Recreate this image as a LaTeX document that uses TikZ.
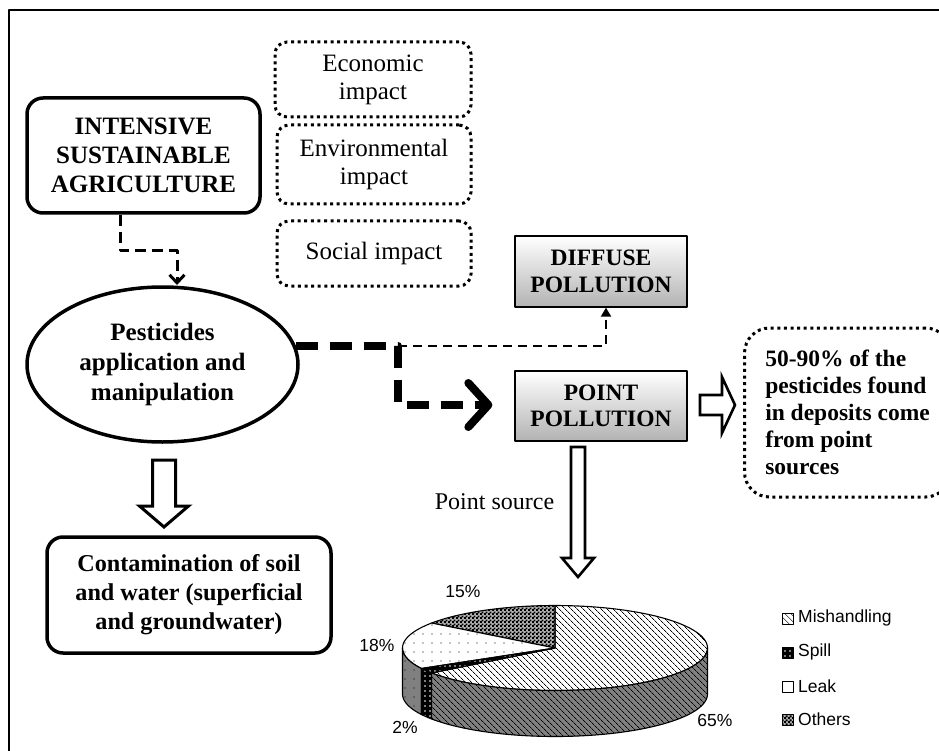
\documentclass[tikz,border=0pt]{standalone}
\usepackage{fontspec}
\setmainfont{Liberation Serif}
\newfontfamily\arialf{Liberation Sans}
\usetikzlibrary{shapes.geometric,arrows.meta,patterns,patterns.meta,calc}
\pgfdeclarepatternformonly{mychecker}{\pgfpointorigin}{\pgfpoint{4pt}{4pt}}{\pgfpoint{4pt}{4pt}}{%
  \pgfpathrectangle{\pgfpointorigin}{\pgfpoint{2.2pt}{2.2pt}}%
  \pgfpathrectangle{\pgfpoint{2pt}{2pt}}{\pgfpoint{2.2pt}{2.2pt}}%
  \pgfusepath{fill}}
\begin{document}
\begin{tikzpicture}[x=1pt,y=-1pt,line join=round,
  solidbox/.style={draw,line width=3.5pt,rounded corners=16pt,align=center,inner sep=0pt},
  dotbox/.style={draw,line width=3pt,dash pattern=on 3pt off 3.6pt,rounded corners=12pt,align=center,inner sep=0pt},
  greybox/.style={draw,line width=1.3pt,top color=white,bottom color=black!30,align=center,inner sep=0pt},
  blockarrow/.style={draw,line width=3pt,fill=white,line join=miter},
  smalldash/.style={line width=3pt,dash pattern=on 11pt off 6pt,-{Straight Barb[length=8pt,width=15pt]}},
  thickdash/.style={line width=8pt,dash pattern=on 22pt off 12pt,-{Straight Barb[length=20pt,width=44pt,round]}},
  thindash/.style={line width=2pt,dash pattern=on 9pt off 6pt,-{Triangle[length=9pt,width=10pt]}},
  bbig/.style={font=\fontsize{25}{29}\selectfont\bfseries},
  bmid/.style={font=\fontsize{23.5}{26.5}\selectfont\bfseries},
  rbig/.style={font=\fontsize{25}{28}\selectfont},
  chartlbl/.style={font=\arialf\fontsize{17.5}{20}\selectfont,inner sep=0pt},
  mishtop/.style={preaction={fill=white},pattern={Lines[angle=-45,distance=4pt,line width=0.7pt]}},
  mishside/.style={preaction={fill=black!50},pattern={Lines[angle=-45,distance=4pt,line width=0.7pt]}},
  spillfill/.style={preaction={fill=black},pattern={Dots[distance=5pt,radius=0.8pt]},pattern color=white},
  leaktop/.style={preaction={fill=white},pattern={Dots[distance=9pt,radius=0.7pt]}},
  leakside/.style={preaction={fill=black!50},pattern={Dots[distance=9pt,radius=0.7pt]}},
  othfill/.style={preaction={fill=black!30},pattern=mychecker},
  sliceline/.style={draw,line width=1.1pt}]
\useasboundingbox (0,0) rectangle (939,751);
\clip (0,0) rectangle (939,751);
\fill[white] (0,0) rectangle (939,751);
% frame
\draw[line width=1.3pt] (9,751) -- (9,10) -- (939,10);

% nodes
\node[solidbox,bbig,minimum width=233pt,minimum height=115pt] (int) at (143.5,155.5) {INTENSIVE\\SUSTAINABLE\\AGRICULTURE};
\node[dotbox,rbig,minimum width=196pt,minimum height=75pt] (eco) at (373,79.5) {Economic\\impact};
\node[dotbox,rbig,minimum width=194pt,minimum height=79pt] (env) at (374,164.5) {Environmental\\impact};
\node[dotbox,rbig,minimum width=194pt,minimum height=65pt] (soc) at (374,253.5) {Social impact};
\node[draw,ellipse,line width=3.5pt,minimum width=271pt,minimum height=155pt,inner sep=0pt,align=center,
      font=\fontsize{25}{30}\selectfont\bfseries] (ell) at (162.5,364.5) {Pesticides\\application and\\manipulation};
\node[solidbox,font=\fontsize{24.2}{29}\selectfont\bfseries,minimum width=284pt,minimum height=116pt] (con) at (189,595)
  {Contamination of soil\\and water (superficial\\and groundwater)};
\node[greybox,bmid,minimum width=172pt,minimum height=71pt] (dif) at (601,271.5) {DIFFUSE\\POLLUTION};
\node[greybox,bmid,minimum width=172pt,minimum height=70pt] (pp) at (601,406) {POINT\\POLLUTION};
\node[dotbox,rounded corners=25pt,font=\fontsize{23.5}{27}\selectfont\bfseries,align=left,anchor=west,
      minimum width=206pt,minimum height=169pt] (note) at (743,412.5)
  {50-90\% of the\\pesticides found\\in deposits come\\from point\\sources};
\node[font=\fontsize{24}{28}\selectfont,inner sep=0pt] (ps) at (494.5,502) {Point source};

% dashed connectors
\coordinate (k1) at (120,251);
\coordinate (k2) at (177,285);
\draw[smalldash] (int.south -| k1) -- (k1) -- (k1 -| k2) -- (k2);
\coordinate (c1) at (398,405);
\draw[thindash] (ell.8 -| c1) -- ([xshift=5pt]dif.south |- ell.8) -- ([xshift=5pt]dif.south);
\draw[thickdash] (ell.8) -- (ell.8 -| c1) -- (c1) -- ([xshift=-22pt]pp.west |- c1);

% block arrows
\path[blockarrow] (152.5,460) -- (175.5,460) -- (175.5,506) -- (188.5,506) -- (164,527)
  -- (139.5,506) -- (152.5,506) -- cycle;
\path[blockarrow,line width=2.6pt] (571,447) -- (585,447) -- (585,558) -- (594,558) -- (578,577)
  -- (562,558) -- (571,558) -- cycle;
\path[blockarrow,line width=2.6pt] (700,395) -- (722,395) -- (722,377) -- (735,405) -- (722,433)
  -- (722,415) -- (700,415) -- cycle;

% pie chart
\def\cx{555}\def\cy{648}\def\rx{152.5}\def\ry{42.5}\def\dd{46}
\coordinate (pc) at (\cx,\cy);
% tops
\path[mishtop,sliceline] (pc) -- plot[domain=-144:90,samples=80] ({\cx+\rx*cos(\x)},{\cy-\ry*sin(\x)}) -- cycle;
\path[othfill,sliceline] (pc) -- plot[domain=90:144,samples=30] ({\cx+\rx*cos(\x)},{\cy-\ry*sin(\x)}) -- cycle;
\path[leaktop,sliceline] (pc) -- plot[domain=144:208.8,samples=30] ({\cx+\rx*cos(\x)},{\cy-\ry*sin(\x)}) -- cycle;
\path[spillfill,sliceline] (pc) -- plot[domain=208.8:216,samples=10] ({\cx+\rx*cos(\x)},{\cy-\ry*sin(\x)}) -- cycle;
% sides
\path[leakside,sliceline] plot[domain=-180:-151.2,samples=20] ({\cx+\rx*cos(\x)},{\cy-\ry*sin(\x)})
  -- plot[domain=-151.2:-180,samples=20] ({\cx+\rx*cos(\x)},{\cy+\dd-\ry*sin(\x)}) -- cycle;
\path[spillfill,sliceline] plot[domain=-151.2:-144,samples=10] ({\cx+\rx*cos(\x)},{\cy-\ry*sin(\x)})
  -- plot[domain=-144:-151.2,samples=10] ({\cx+\rx*cos(\x)},{\cy+\dd-\ry*sin(\x)}) -- cycle;
\path[mishside,sliceline] plot[domain=-144:0,samples=80] ({\cx+\rx*cos(\x)},{\cy-\ry*sin(\x)})
  -- plot[domain=0:-144,samples=80] ({\cx+\rx*cos(\x)},{\cy+\dd-\ry*sin(\x)}) -- cycle;

% percentage labels
\node[chartlbl] (l15) at (463,592) {15\%};
\node[chartlbl] (l18) at (377,645) {18\%};
\node[chartlbl] (l2) at (405,727) {2\%};
\node[chartlbl] (l65) at (715,720) {65\%};

% legend
\path[mishtop,draw,line width=0.8pt] (782,613) rectangle (793,624);
\path[spillfill,draw,line width=0.8pt] (782,647) rectangle (793,658);
\path[fill=white,draw,line width=0.8pt] (782,681) rectangle (793,692);
\path[othfill,draw,line width=0.8pt] (782,714) rectangle (793,725);
\node[chartlbl,anchor=west] (lg1) at (798,618) {Mishandling};
\node[chartlbl,anchor=west] (lg2) at (798,652) {Spill};
\node[chartlbl,anchor=west] (lg3) at (798,686) {Leak};
\node[chartlbl,anchor=west] (lg4) at (798,719) {Others};
\end{tikzpicture}
\end{document}
